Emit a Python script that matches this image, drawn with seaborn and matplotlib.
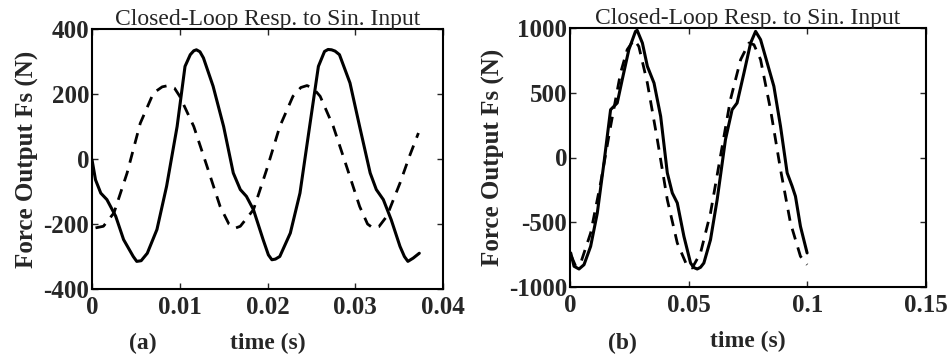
import matplotlib
matplotlib.use("Agg")
import matplotlib.pyplot as plt
import seaborn as sns
import pandas as pd

# (a) solid = force output, dashed = sine input
t_a_solid = [0.0, 0.0004, 0.001, 0.0017, 0.0027, 0.0036, 0.0047, 0.0051, 0.0056, 0.0063, 0.0074,
             0.0085, 0.0097, 0.0106, 0.0112, 0.0116, 0.0119, 0.0123, 0.0127, 0.0138, 0.0150,
             0.0161, 0.0169, 0.0176, 0.0184, 0.0195, 0.0201, 0.0205, 0.0209, 0.0214, 0.0226,
             0.0237, 0.0248, 0.0258, 0.0265, 0.0269, 0.0273, 0.0277, 0.0282, 0.0294, 0.0305,
             0.0317, 0.0324, 0.0332, 0.0341, 0.0351, 0.0356, 0.0360, 0.0366, 0.0373]
f_a_solid = [-2, -64, -105, -125, -176, -248, -300, -315, -313, -290, -217,
             -84, 100, 285, 321, 333, 336, 330, 311, 224, 100,
             -43, -94, -115, -156, -248, -295, -310, -308, -300, -228,
             -105, 100, 285, 331, 337, 336, 332, 321, 234, 100,
             -43, -94, -125, -187, -269, -300, -315, -305, -290]
t_a_dash = [0.0004, 0.0013, 0.0025, 0.004, 0.0055, 0.007, 0.0080, 0.0087, 0.0094, 0.010,
            0.0116, 0.0131, 0.0146, 0.0156, 0.0163, 0.0169, 0.0184, 0.0199, 0.0214, 0.0229,
            0.0238, 0.0245, 0.0252, 0.026, 0.0275, 0.029, 0.0305, 0.0314, 0.032, 0.0327,
            0.0336, 0.0351, 0.0362, 0.0372]
f_a_dash = [-212, -207, -166, -43, 110, 203, 222, 226, 218, 193,
            100, -22, -146, -200, -213, -207, -156, -33, 100, 193,
            220, 226, 218, 193, 100, -22, -146, -200, -212, -208,
            -176, -74, 10, 80]

# (b)
t_b_solid = [0.0003, 0.0017, 0.0038, 0.0059, 0.0087, 0.0115, 0.0143, 0.0171, 0.0199, 0.022,
             0.0248, 0.0276, 0.0283, 0.0305, 0.0326, 0.0354, 0.0382, 0.041, 0.0431, 0.0452,
             0.048, 0.0508, 0.0522, 0.0536, 0.055, 0.0564, 0.0592, 0.062, 0.0655, 0.0683,
             0.0704, 0.0733, 0.0761, 0.0782, 0.0803, 0.0831, 0.0859, 0.0887, 0.0915, 0.0936,
             0.095, 0.0971, 0.0999]
f_b_solid = [-737, -840, -861, -828, -686, -429, -42, 369, 421, 601,
             833, 974, 982, 884, 704, 575, 318, -119, -274, -351,
             -609, -815, -850, -861, -848, -815, -635, -326, 138, 369,
             421, 653, 884, 974, 910, 730, 550, 241, -119, -222,
             -300, -532, -737]
t_b_dash = [0.0006, 0.0024, 0.0045, 0.0087, 0.0129, 0.0171, 0.0213, 0.0241, 0.027, 0.029,
            0.0326, 0.0368, 0.041, 0.0452, 0.0494, 0.0515, 0.055, 0.0592, 0.0634, 0.0676,
            0.0719, 0.0754, 0.0775, 0.0803, 0.0845, 0.0887, 0.0929, 0.0971, 0.0999]
f_b_dash = [-763, -840, -815, -583, -197, 241, 653, 833, 910, 858,
            575, 138, -326, -660, -840, -853, -737, -429, 10, 447,
            756, 884, 871, 756, 369, -93, -506, -763, -828]

sns.set_theme(style="ticks")
plt.rcParams['font.family'] = ['Liberation Serif', 'DejaVu Serif']
plt.rcParams['font.weight'] = 'bold'
plt.rcParams['axes.unicode_minus'] = False

fig = plt.figure(figsize=(9.48, 3.6), dpi=100)
ax_a = fig.add_axes([92 / 948, 71 / 360, 351 / 948, 260 / 360])
ax_b = fig.add_axes([570 / 948, 73 / 360, 356 / 948, 259 / 360])


def draw(ax, ts, fs, td, fd):
    sns.lineplot(data=pd.DataFrame({"t": ts, "f": fs}), x="t", y="f", ax=ax,
                 color="black", linewidth=2.2, sort=False)
    sns.lineplot(data=pd.DataFrame({"t": td, "f": fd}), x="t", y="f", ax=ax,
                 color="black", linewidth=2.0, sort=False)
    ax.lines[-1].set_dashes((4, 3))
    for ln in ax.lines:
        ln.set_solid_joinstyle("round")
        ln.set_dash_joinstyle("round")
    ax.set_title("Closed-Loop Resp. to Sin. Input", fontsize=17, fontweight="normal", pad=3)
    ax.set_xlabel("time (s)", fontsize=17, fontweight="bold", labelpad=10)
    ax.set_ylabel("Force Output Fs (N)", fontsize=18, fontweight="bold", labelpad=3)
    ax.tick_params(direction="in", top=True, right=True, length=4, width=1,
                   labelsize=18, pad=2)
    for sp in ax.spines.values():
        sp.set_visible(True)
        sp.set_linewidth(1.5)
        sp.set_color("black")


draw(ax_a, t_a_solid, f_a_solid, t_a_dash, f_a_dash)
ax_a.set_xlim(0, 0.04)
ax_a.set_ylim(-400, 400)
ax_a.set_xticks([0, 0.01, 0.02, 0.03, 0.04])
ax_a.set_xticklabels(["0", "0.01", "0.02", "0.03", "0.04"])
ax_a.set_yticks([-400, -200, 0, 200, 400])
ax_a.set_yticklabels(["-400", "-200", "0", "200", "400"])

draw(ax_b, t_b_solid, f_b_solid, t_b_dash, f_b_dash)
ax_b.set_xlim(0, 0.15)
ax_b.set_ylim(-1000, 1000)
ax_b.set_xticks([0, 0.05, 0.1, 0.15])
ax_b.set_xticklabels(["0", "0.05", "0.1", "0.15"])
ax_b.set_yticks([-1000, -500, 0, 500, 1000])
ax_b.set_yticklabels(["-1000", "-500", "0", "500", "1000"])

for ax in (ax_a, ax_b):
    for lab in ax.get_xticklabels() + ax.get_yticklabels():
        lab.set_fontweight("bold")
    ax.tick_params(axis="x", pad=5)

fig.text(143 / 948, 1 - 343 / 360, "(a)", fontsize=17, fontweight="bold", ha="center", va="center")
fig.text(622 / 948, 1 - 343 / 360, "(b)", fontsize=17, fontweight="bold", ha="center", va="center")

fig.savefig("out.png", dpi=100)
